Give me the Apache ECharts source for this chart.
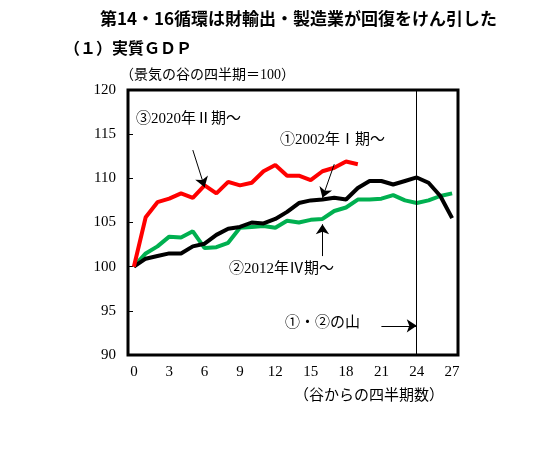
<!DOCTYPE html>
<html><head><meta charset="utf-8">
<script src="https://cdn.jsdelivr.net/npm/echarts@6/dist/echarts.min.js"></script>
<style>body{margin:0;background:#fff}#c{width:544px;height:473px}</style>
</head><body><div id="c"></div>
<script>
// 谷からの四半期数
var quarters = [];
for (var i = 0; i <= 27; i++) quarters.push(String(i));
// ③2020年Ⅱ期～
var cycle3 = [100, 105.6, 107.3, 107.7, 108.3, 107.8, 109.2, 108.3, 109.6, 109.2, 109.5, 110.8, 111.5, 110.3, 110.3, 109.8, 110.8, 111.2, 111.9, 111.6];
// ①2002年Ⅰ期～
var cycle1 = [100, 100.9, 101.2, 101.5, 101.5, 102.3, 102.6, 103.6, 104.3, 104.5, 105.0, 104.9, 105.4, 106.2, 107.2, 107.5, 107.6, 107.8, 107.6, 108.9, 109.7, 109.7, 109.3, 109.7, 110.1, 109.5, 108.0, 105.5];
// ②2012年Ⅳ期～
var cycle2 = [100, 101.5, 102.3, 103.4, 103.3, 104.0, 102.1, 102.2, 102.7, 104.4, 104.5, 104.6, 104.4, 105.2, 105.0, 105.3, 105.4, 106.3, 106.7, 107.6, 107.6, 107.7, 108.1, 107.5, 107.2, 107.5, 108.0, 108.3];

var serif = '"Liberation Serif","Noto Sans CJK JP",serif';
var jp = '"Noto Sans CJK JP",sans-serif';
var chart = echarts.init(document.getElementById('c'));

function arrow(a, b) {
  return [{coord: a}, {coord: b}];
}

chart.setOption({
  animation: false,
  grid: {left: 128, right: 86, top: 90, bottom: 118, show: true, borderColor: '#000', borderWidth: 3},
  xAxis: {
    type: 'category', data: quarters, boundaryGap: true,
    axisLine: {show: false}, axisTick: {show: false}, splitLine: {show: false},
    axisLabel: {interval: 2, color: '#000', fontSize: 15, fontFamily: serif, margin: 10}
  },
  yAxis: {
    type: 'value', min: 90, max: 120, interval: 5,
    axisLine: {show: false}, splitLine: {show: false},
    axisTick: {show: true, inside: true, length: 5, lineStyle: {color: '#000'}},
    axisLabel: {color: '#000', fontSize: 15, fontFamily: serif, margin: 12}
  },
  series: [
    {type: 'line', data: cycle2, symbol: 'none', lineStyle: {color: '#00b050', width: 4}, z: 2},
    {type: 'line', data: cycle1, symbol: 'none', lineStyle: {color: '#000', width: 4}, z: 3,
      markLine: {
        silent: true, symbol: ['none', 'none'], label: {show: false},
        lineStyle: {color: '#000', width: 1, type: 'solid'},
        data: [[{coord: ['24', 90]}, {coord: ['24', 120]}]]
      }},
    {type: 'line', data: cycle3, symbol: 'none', lineStyle: {color: '#ff0000', width: 4}, z: 4,
      markLine: {
        silent: true, symbol: ['none', 'arrow'], symbolSize: 10, label: {show: false},
        lineStyle: {color: '#000', width: 1, type: 'solid'},
        data: [
          arrow([4.6, 113.2], [5.8, 109.0]),
          arrow([17.0, 111.6], [15.9, 107.8]),
          arrow([16.2, 101.2], [15.5, 104.8]),
          arrow([20.6, 93.3], [23.8, 93.3])
        ]
      }}
  ],
  graphic: [
    {type: 'text', left: 100, top: 10, style: {text: '第14・16循環は財輸出・製造業が回復をけん引した', font: 'bold 17px ' + jp, fill: '#000'}},
    {type: 'text', left: 64, top: 40, style: {text: '（１）実質ＧＤＰ', font: 'bold 16px ' + jp, fill: '#000'}},
    {type: 'text', left: 120, top: 68, style: {text: '（景気の谷の四半期＝100）', font: '14px ' + serif, fill: '#000'}},
    {type: 'text', left: 136, top: 112, style: {text: '③2020年Ⅱ期～', font: '15px ' + serif, fill: '#000'}},
    {type: 'text', left: 280, top: 133, style: {text: '①2002年Ⅰ期～', font: '15px ' + serif, fill: '#000'}},
    {type: 'text', left: 229, top: 262, style: {text: '②2012年Ⅳ期～', font: '15px ' + serif, fill: '#000'}},
    {type: 'text', left: 285, top: 316, style: {text: '①・②の山', font: '15px ' + serif, fill: '#000'}},
    {type: 'text', left: 294, top: 389, style: {text: '（谷からの四半期数）', font: '15px ' + serif, fill: '#000'}}
  ]
});
</script></body></html>
